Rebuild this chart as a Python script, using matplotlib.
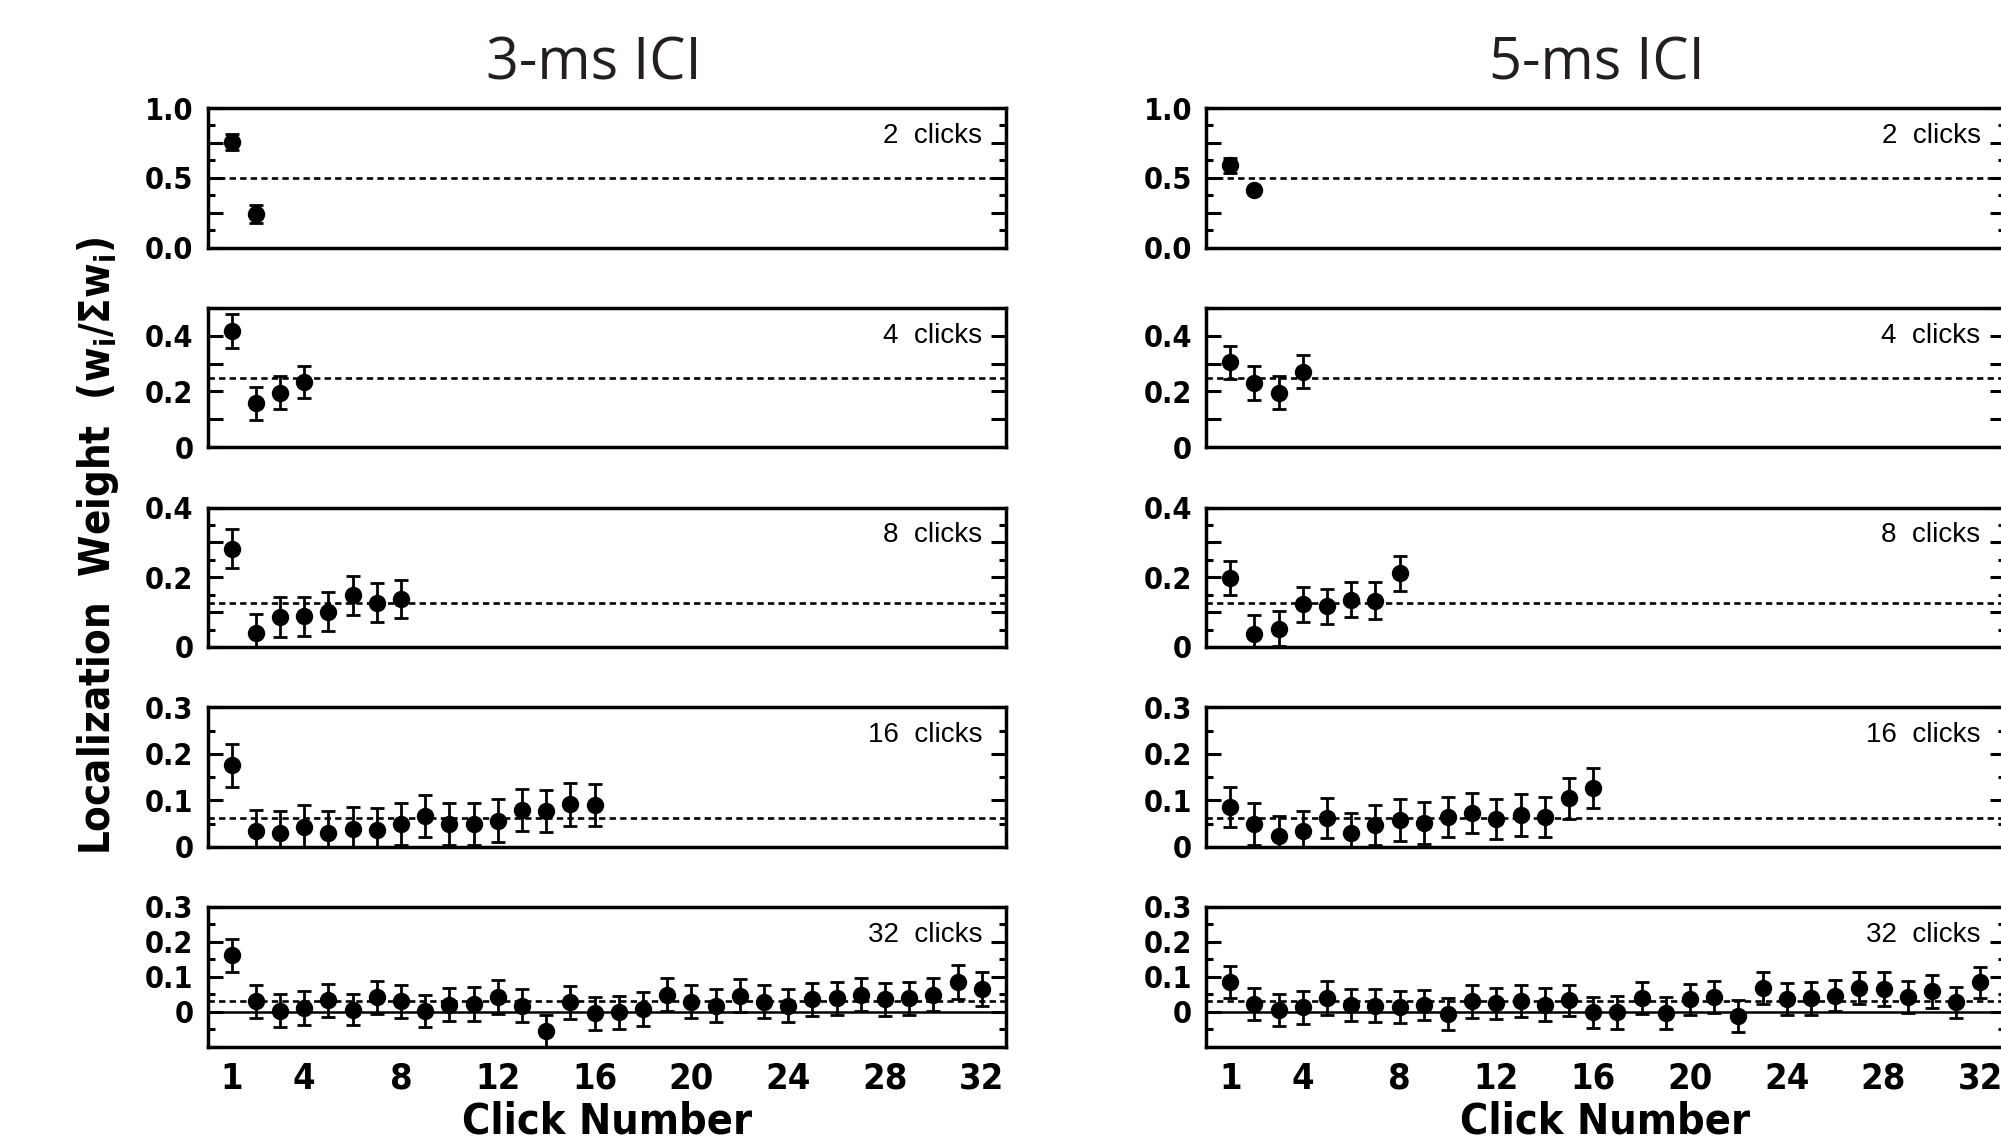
import matplotlib
matplotlib.use("Agg")
import matplotlib.pyplot as plt
import numpy as np

plt.rcParams['font.family'] = ['DejaVu Sans Condensed', 'DejaVu Sans']
plt.rcParams['font.stretch'] = 'condensed'
plt.rcParams['font.weight'] = 'bold'
plt.rcParams['mathtext.fontset'] = 'dejavusans'

# ---------------- data ----------------
click_counts = [2, 4, 8, 16, 32]
ici_titles = ["3-ms ICI", "5-ms ICI"]
xtick_vals = [1, 4, 8, 12, 16, 20, 24, 28, 32]

# 3-ms ICI
w3_2 = [0.756, 0.242]
e3_2 = [0.059, 0.063]
w3_4 = [0.416, 0.157, 0.196, 0.235]
e3_4 = [0.060, 0.059, 0.060, 0.057]
w3_8 = [0.282, 0.040, 0.086, 0.088, 0.101, 0.148, 0.127, 0.138]
e3_8 = [0.056, 0.054, 0.056, 0.056, 0.056, 0.057, 0.056, 0.055]
w3_16 = [0.175, 0.034, 0.030, 0.043, 0.029, 0.039, 0.037, 0.049,
         0.066, 0.049, 0.049, 0.056, 0.079, 0.077, 0.091, 0.089]
e3_16 = [0.046, 0.046, 0.047, 0.047, 0.047, 0.046, 0.046, 0.046,
         0.046, 0.045, 0.045, 0.046, 0.046, 0.046, 0.046, 0.045]
w3_32 = [0.161, 0.030, 0.003, 0.011, 0.032, 0.006, 0.041, 0.030,
         0.003, 0.020, 0.022, 0.041, 0.017, -0.055, 0.027, -0.005,
         -0.002, 0.008, 0.048, 0.029, 0.017, 0.046, 0.029, 0.017,
         0.035, 0.038, 0.048, 0.035, 0.038, 0.048, 0.086, 0.065]
e3_32 = [0.046, 0.047, 0.048, 0.048, 0.048, 0.044, 0.047, 0.047,
         0.046, 0.047, 0.048, 0.049, 0.048, 0.045, 0.047, 0.047,
         0.048, 0.048, 0.047, 0.047, 0.047, 0.047, 0.048, 0.047,
         0.047, 0.048, 0.047, 0.047, 0.048, 0.047, 0.049, 0.048]

# 5-ms ICI
w5_2 = [0.589, 0.409]
e5_2 = [0.055, 0.015]
w5_4 = [0.304, 0.229, 0.196, 0.271]
e5_4 = [0.060, 0.061, 0.059, 0.059]
w5_8 = [0.199, 0.038, 0.052, 0.122, 0.117, 0.136, 0.133, 0.211]
e5_8 = [0.049, 0.053, 0.050, 0.051, 0.050, 0.050, 0.052, 0.050]
w5_16 = [0.086, 0.049, 0.023, 0.034, 0.062, 0.029, 0.046, 0.057,
         0.051, 0.064, 0.073, 0.059, 0.068, 0.064, 0.104, 0.127]
e5_16 = [0.043, 0.045, 0.044, 0.043, 0.043, 0.043, 0.043, 0.045,
         0.045, 0.044, 0.043, 0.043, 0.045, 0.044, 0.044, 0.043]
w5_32 = [0.086, 0.022, 0.005, 0.012, 0.039, 0.020, 0.017, 0.014,
         0.019, -0.007, 0.030, 0.024, 0.030, 0.020, 0.032, -0.002,
         -0.002, 0.039, -0.005, 0.035, 0.041, -0.012, 0.068, 0.036,
         0.038, 0.046, 0.068, 0.065, 0.041, 0.058, 0.027, 0.084]
e5_32 = [0.046, 0.045, 0.046, 0.047, 0.049, 0.046, 0.047, 0.046,
         0.043, 0.046, 0.047, 0.045, 0.046, 0.047, 0.045, 0.045,
         0.047, 0.046, 0.046, 0.045, 0.046, 0.046, 0.045, 0.047,
         0.047, 0.045, 0.047, 0.048, 0.046, 0.047, 0.045, 0.045]

means = [[w3_2, w3_4, w3_8, w3_16, w3_32], [w5_2, w5_4, w5_8, w5_16, w5_32]]
errs = [[e3_2, e3_4, e3_8, e3_16, e3_32], [e5_2, e5_4, e5_8, e5_16, e5_32]]

# per-row axis setup: ylim, major ticks, labels, minor ticks
ylims = [(0, 1.0), (0, 0.5), (0, 0.4), (0, 0.3), (-0.1, 0.3)]
majors = [[0, 0.25, 0.5, 0.75, 1.0],
          [0, 0.1, 0.2, 0.3, 0.4, 0.5],
          [0, 0.1, 0.2, 0.3, 0.4],
          [0, 0.1, 0.2, 0.3],
          [-0.1, 0, 0.1, 0.2, 0.3]]
major_labels = [['0.0', '', '0.5', '', '1.0'],
                ['0', '', '0.2', '', '0.4', ''],
                ['0', '', '0.2', '', '0.4'],
                ['0', '0.1', '0.2', '0.3'],
                ['', '0', '0.1', '0.2', '0.3']]
minors = [[0.125, 0.375, 0.625, 0.875],
          [],
          [0.05, 0.15, 0.25, 0.35],
          [0.05, 0.15, 0.25],
          [-0.05, 0.05, 0.15, 0.25]]

W, H = 2001, 1142
fig = plt.figure(figsize=(W / 100, H / 100), dpi=100)

col_left = [207.5, 1206]
ax_w = 798.5
ax_h = 139.5

for c in range(2):
    for r, n in enumerate(click_counts):
        top = 108 + r * 199.75
        ax = fig.add_axes([col_left[c] / W, 1 - (top + ax_h) / H, ax_w / W, ax_h / H])
        x = np.arange(1, n + 1)
        ax.axhline(1.0 / n, color='black', lw=1.9, ls=(0, (2.4, 1.6)), zorder=1)
        if r == 4:
            ax.axhline(0, color='black', lw=1.8, zorder=1)
        ax.errorbar(x, means[c][r], yerr=errs[c][r], fmt='o', color='black',
                    ms=11.5, elinewidth=2.0, capsize=5, capthick=2.0, zorder=3)
        ax.set_xlim(0, 33)
        ax.set_ylim(*ylims[r])
        ax.set_yticks(majors[r], major_labels[r])
        ax.set_yticks(minors[r], minor=True)
        ax.tick_params(axis='y', which='both', direction='in', left=True, right=True,
                       width=2.2, labelsize=22, pad=10)
        ax.tick_params(axis='y', which='major', length=11)
        ax.tick_params(axis='y', which='minor', length=5)
        for s in ax.spines.values():
            s.set_linewidth(2.5)
        if r == 4:
            ax.set_xticks(xtick_vals)
            ax.tick_params(axis='x', length=0, labelsize=26, pad=11)
        else:
            ax.set_xticks([])
        ax.text(0.97, 0.80, f"{n}  clicks", transform=ax.transAxes, ha='right', va='center',
                fontsize=20, family='Liberation Sans', fontweight='normal', fontstretch='normal')

    xc = (col_left[c] + ax_w / 2) / W
    fig.text(xc, 1 - 1121.5 / H, "Click Number", ha='center', va='center', fontsize=31)

fig.text(594 / W, 1 - 79 / H, ici_titles[0], ha='center', va='baseline', fontsize=41.5,
         family='Open Sans', fontweight='normal', fontstretch='normal', color='#231f20')
fig.text(1597 / W, 1 - 79 / H, ici_titles[1], ha='center', va='baseline', fontsize=41.5,
         family='Open Sans', fontweight='normal', fontstretch='normal', color='#231f20')

fig.text(98 / W, 1 - 545.5 / H, r"Localization  Weight  ($\mathbf{w_i/\Sigma w_i}$)",
         rotation=90, ha='center', va='center', fontsize=30)

fig.savefig("out.png", dpi=100)
